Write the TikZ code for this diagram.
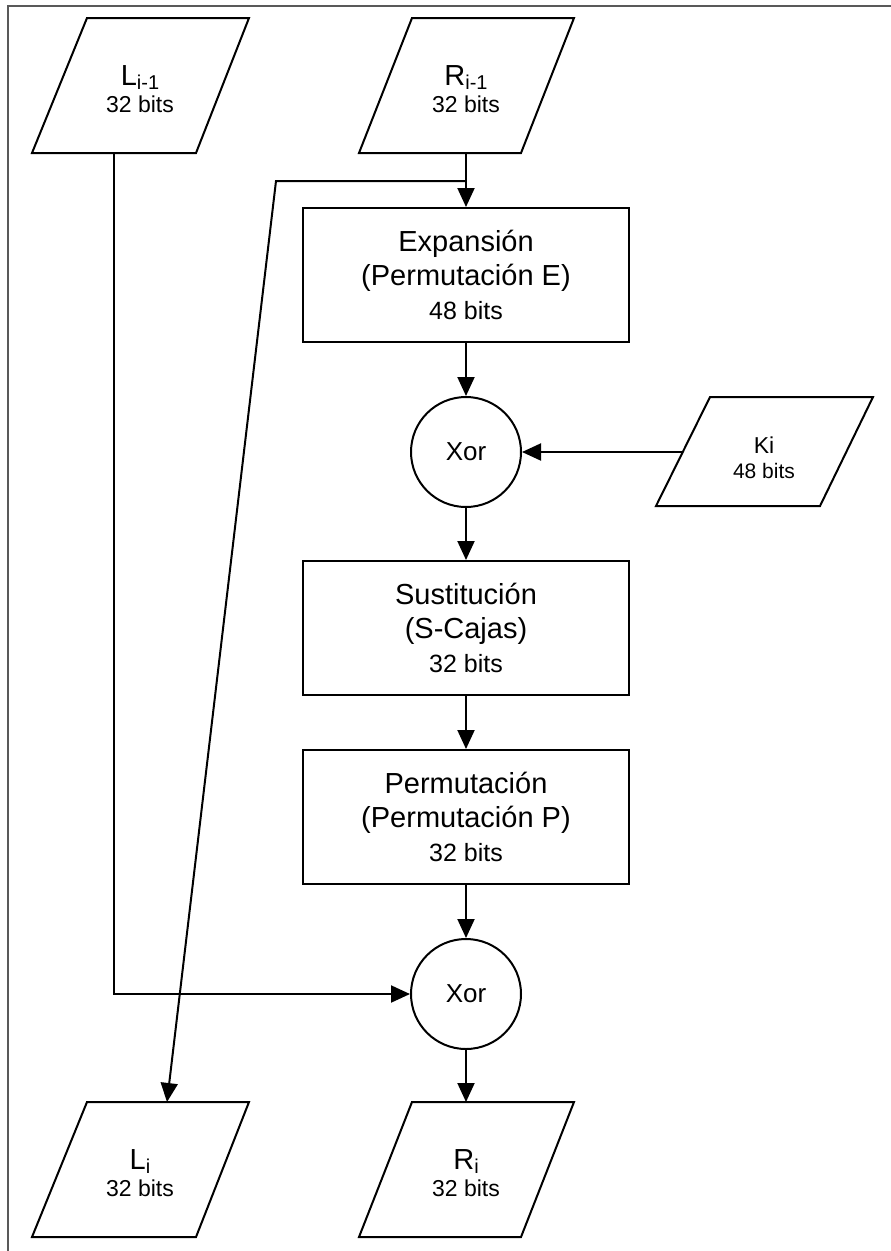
\documentclass[tikz,border=0pt]{standalone}
\usepackage{fontspec}
\setmainfont{Liberation Sans}
\usetikzlibrary{arrows.meta}

% font sizes used in the round diagram
\newcommand\bigtxt{\fontsize{29}{34}\selectfont}
\newcommand\midtxt{\fontsize{25}{30}\selectfont}
\newcommand\subtxt[1]{\raisebox{-4pt}{\fontsize{20}{20}\selectfont #1}}

\begin{document}
\begin{tikzpicture}[x=1pt,y=-1pt,
  line width=2pt,
  flow/.style={-{Triangle[length=19pt,width=17pt]}, line width=2pt, line join=miter},
  blk/.style={draw, line width=2pt, minimum width=326pt, minimum height=134pt,
    align=center, inner sep=0pt, font=\bigtxt},
  xorc/.style={draw, circle, line width=2pt, minimum size=110pt, inner sep=0pt,
    font=\fontsize{26}{30}\selectfont},
  io/.style={draw, line width=2pt, line join=miter},
  iolbl/.style={align=center, inner sep=0pt, font=\fontsize{23}{27}\selectfont},
  frame/.style={draw=black!65, line width=2pt}
]
\useasboundingbox (0,0) rectangle (891,1251);

% page frame (top and left edges)
\draw[frame] (891,6) -- (8,6) -- (8,1251);

% ---- input / output parallelograms ----
\draw[io] (87,18) -- (249,18) -- (196,153) -- (32,153) -- cycle;
\node[iolbl] (lprev) at (140,89) {{\bigtxt L}\subtxt{i-1}\\32 bits};

\draw[io] (412,18) -- (574,18) -- (521,153) -- (359,153) -- cycle;
\node[iolbl] (rprev) at (466,89) {{\bigtxt R}\subtxt{i-1}\\32 bits};

\draw[io] (710,397) -- (873,397) -- (820,506) -- (656,506) -- cycle;
\node[iolbl, font=\fontsize{21}{25}\selectfont] (key) at (764,458)
  {{\fontsize{23}{23}\selectfont Ki}\\48 bits};

\draw[io] (87,1102) -- (249,1102) -- (196,1237) -- (32,1237) -- cycle;
\node[iolbl] (lnext) at (140,1173) {{\bigtxt L}\subtxt{i}\\32 bits};

\draw[io] (412,1102) -- (574,1102) -- (521,1237) -- (359,1237) -- cycle;
\node[iolbl] (rnext) at (466,1173) {{\bigtxt R}\subtxt{i}\\32 bits};

% connector end points on the parallelogram edges
\coordinate (lprev-out) at (114,153);
\coordinate (rprev-out) at (466,153);
\coordinate (key-out)   at (683,452);
\coordinate (lnext-in)  at (167,1102);
\coordinate (rnext-in)  at (466,1102);

% ---- round function ----
\node[blk] (exp)  at (466,275) {Expansión\\(Permutación E)\\{\midtxt 48 bits}};
\node[xorc] (xor1) at (466,452) {Xor};
\node[blk] (sust) at (466,628) {Sustitución\\(S-Cajas)\\{\midtxt 32 bits}};
\node[blk] (perm) at (466,817) {Permutación\\(Permutación P)\\{\midtxt 32 bits}};
\node[xorc] (xor2) at (466,994) {Xor};

% ---- connectors ----
\coordinate (split) at (466,181);
\coordinate (cross) at (276,181);
\coordinate (lbend) at (114,994);

\draw[flow] (rprev-out) -- (exp.north);
\draw[flow] (split) -- (cross) -- (lnext-in);
\draw[flow] (exp.south) -- (xor1.north);
\draw[flow] (key-out) -- (xor1.east);
\draw[flow] (xor1.south) -- (sust.north);
\draw[flow] (sust.south) -- (perm.north);
\draw[flow] (perm.south) -- (xor2.north);
\draw[flow] (lprev-out) -- (lbend) -- (xor2.west);
\draw[flow] (xor2.south) -- (rnext-in);
\end{tikzpicture}
\end{document}
